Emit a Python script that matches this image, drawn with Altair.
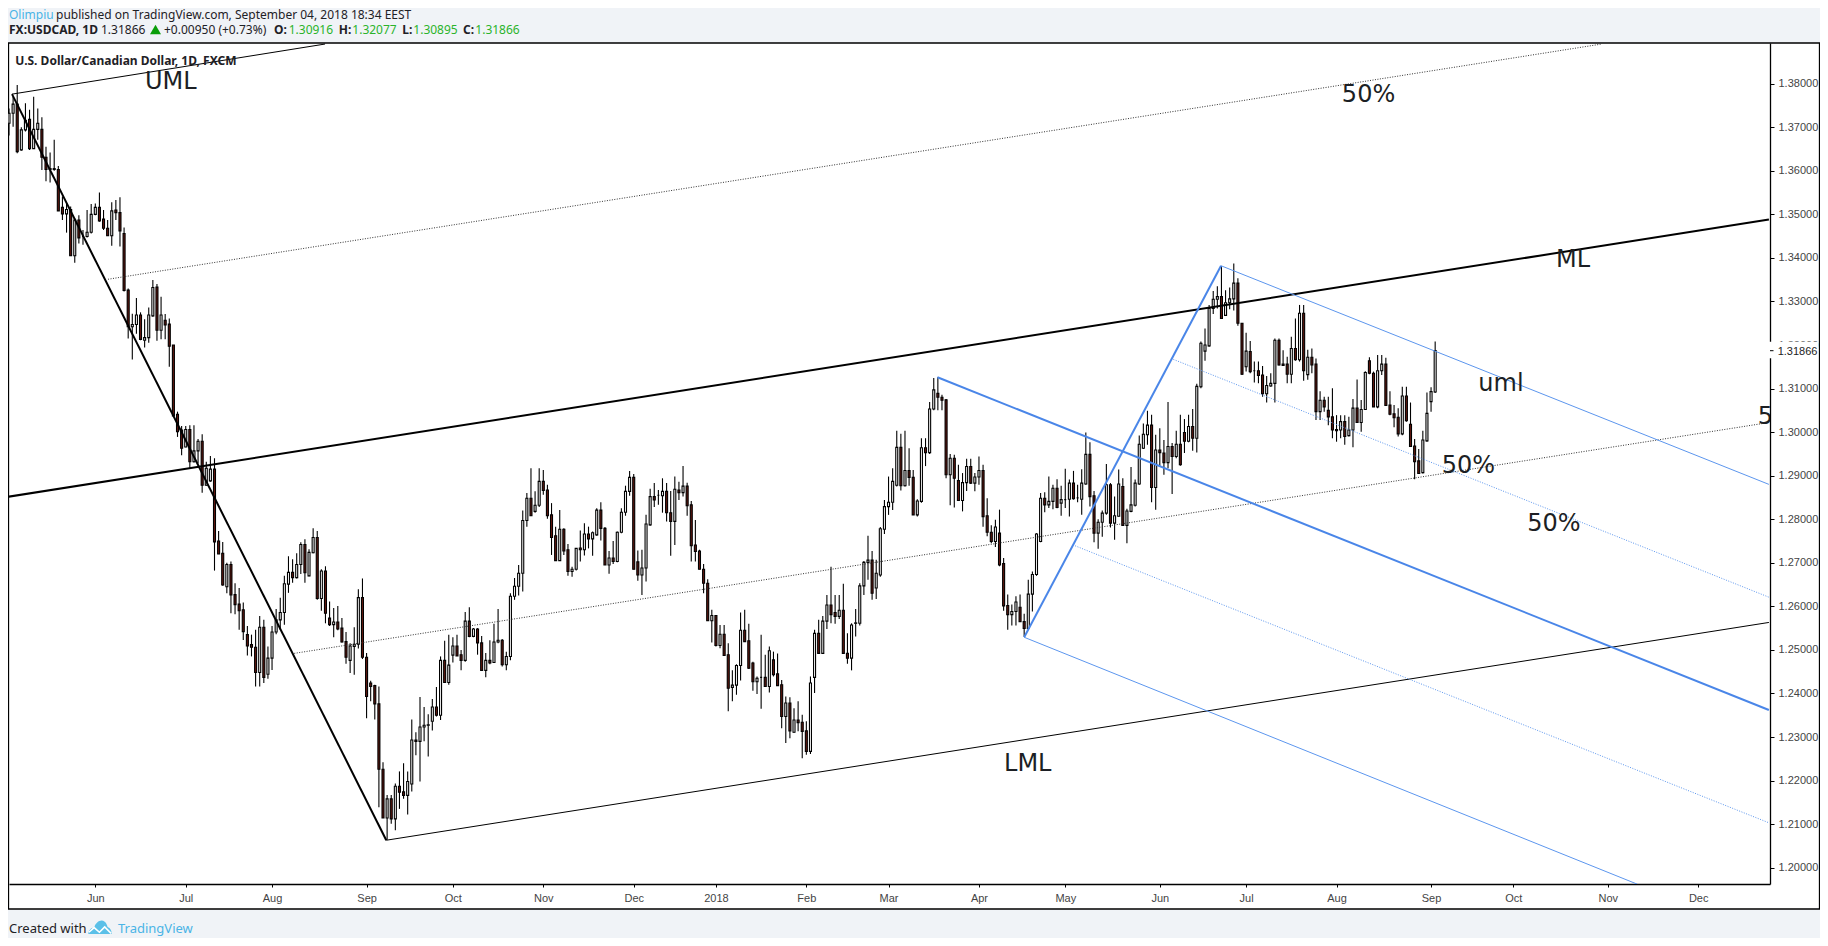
import altair as alt
import pandas as pd

# Daily USD/CAD candles, in units of 0.0001
opens = [13709,13732,13753,13648,13694,13718,13651,13695,13695,13631,
13603,13605,13603,13516,13501,13511,13405,13487,13449,13449,
13459,13500,13516,13489,13468,13451,13510,13504,13456,13326,
13242,13247,13269,13211,13217,13267,13333,13234,13257,13248,
13200,13041,13005,12966,13006,12932,12957,12979,12878,12888,
12915,12750,12722,12645,12696,12627,12605,12592,12535,12512,
12506,12448,12552,12444,12481,12541,12569,12586,12651,12678,
12666,12696,12742,12670,12723,12758,12618,12681,12573,12558,
12564,12550,12519,12476,12508,12513,12620,12483,12424,12418,
12376,12226,12114,12158,12112,12187,12174,12166,12192,12293,
12290,12323,12327,12336,12369,12350,12476,12425,12488,12509,
12489,12476,12566,12531,12548,12516,12453,12476,12471,12518,
12522,12466,12485,12623,12646,12676,12797,12848,12818,12832,
12887,12867,12810,12762,12705,12777,12730,12680,12685,12734,
12730,12766,12755,12764,12821,12779,12695,12711,12703,12770,
12816,12864,12896,12702,12672,12688,12787,12852,12855,12854,
12864,12815,12795,12867,12861,12876,12833,12741,12727,12685,
12653,12567,12579,12510,12536,12489,12414,12419,12464,12545,
12521,12470,12427,12437,12437,12416,12477,12445,12420,12347,
12378,12311,12339,12334,12314,12267,12437,12538,12492,12566,
12603,12586,12577,12591,12492,12481,12561,12561,12647,12701,
12706,12642,12672,12777,12829,12839,12878,12965,12877,12912,
12896,12810,12841,12964,12953,13053,13089,13080,13074,12902,
12940,12889,12843,12884,12921,12883,12897,12912,12808,12770,
12749,12768,12698,12602,12581,12588,12598,12565,12549,12628,
12673,12749,12848,12833,12841,12871,12837,12845,12846,12883,
12849,12846,12881,12949,12854,12768,12793,12814,12879,12791,
12807,12875,12786,12818,12832,12881,12963,12994,13016,12873,
12959,12952,12930,12967,12944,12972,12999,12979,13013,12986,
13104,13186,13198,13284,13305,13311,13268,13297,13306,13342,
13250,13150,13185,13141,13141,13131,13088,13106,13112,13211,
13156,13156,13133,13192,13166,13273,13132,13172,13156,13047,
13073,13050,13035,13006,13005,13024,12992,13005,13055,13022,
13052,13164,13135,13058,13141,13156,13062,13042,13034,12996,
13083,13018,12968,12934,12907,12980,13070,13092]

highs = [13743,13770,13797,13700,13755,13740,13770,13743,13723,13655,
13642,13671,13611,13541,13525,13518,13491,13498,13464,13510,
13524,13525,13550,13510,13487,13528,13533,13539,13470,13330,
13272,13308,13275,13259,13286,13349,13340,13311,13271,13261,
13200,13047,13014,13014,13016,13016,12984,12995,12932,12945,
12940,12773,12748,12700,12703,12653,12642,12609,12555,12535,
12546,12578,12569,12508,12555,12594,12620,12670,12715,12708,
12722,12747,12754,12731,12779,12773,12685,12692,12611,12596,
12601,12573,12541,12515,12552,12639,12664,12493,12429,12420,
12416,12242,12167,12167,12193,12221,12240,12221,12340,12311,
12392,12369,12352,12387,12415,12485,12521,12535,12529,12535,
12500,12587,12598,12550,12550,12532,12493,12522,12560,12594,
12525,12496,12630,12665,12695,12820,12860,12917,12864,12917,
12913,12879,12837,12783,12821,12779,12743,12691,12733,12774,
12791,12783,12772,12825,12839,12782,12727,12750,12772,12825,
12877,12911,12904,12728,12730,12810,12870,12883,12867,12894,
12883,12865,12898,12886,12922,12884,12842,12798,12730,12697,
12662,12592,12580,12557,12557,12515,12453,12467,12586,12592,
12560,12473,12439,12535,12489,12508,12496,12492,12431,12393,
12391,12366,12382,12351,12336,12439,12546,12569,12578,12626,
12691,12626,12626,12652,12538,12561,12594,12653,12704,12762,
12727,12707,12782,12844,12898,12917,13003,12996,13003,12963,
12913,12846,12986,12986,13069,13124,13126,13086,13076,12950,
12948,12925,12906,12939,12939,12906,12944,12925,12848,12786,
12799,12822,12711,12627,12604,12623,12627,12583,12661,12680,
12768,12860,12862,12898,12879,12892,12877,12916,12891,12911,
12879,12915,12999,12977,12865,12800,12820,12927,12883,12852,
12914,12894,12824,12920,12891,12992,13020,13049,13040,12994,
13009,12982,13069,12975,13003,13040,13030,13040,13053,13111,
13208,13238,13292,13324,13335,13381,13326,13332,13387,13353,
13250,13228,13209,13162,13162,13152,13129,13135,13215,13215,
13188,13173,13219,13261,13292,13292,13189,13192,13169,13094,
13081,13081,13101,13039,13039,13039,13035,13076,13121,13074,
13140,13172,13139,13177,13177,13171,13094,13062,13055,13104,
13104,13068,12984,12961,13003,13091,13103,13208]

lows = [13681,13701,13640,13646,13690,13648,13650,13671,13602,13576,
13573,13600,13508,13487,13458,13405,13389,13433,13430,13447,
13456,13498,13483,13464,13450,13428,13487,13426,13323,13215,
13167,13226,13211,13194,13205,13265,13210,13213,13213,13150,
13037,12989,12947,12965,12917,12930,12928,12861,12877,12886,
12682,12720,12647,12630,12584,12582,12546,12523,12487,12485,
12416,12416,12424,12434,12454,12536,12546,12558,12631,12654,
12664,12674,12654,12669,12722,12615,12590,12561,12555,12529,
12545,12517,12468,12447,12443,12503,12479,12343,12382,12340,
12139,12114,12064,12101,12086,12135,12158,12122,12175,12258,
12198,12290,12255,12315,12347,12339,12424,12420,12471,12486,
12453,12473,12529,12529,12489,12452,12437,12467,12470,12515,
12462,12453,12476,12615,12625,12634,12783,12808,12815,12828,
12856,12801,12718,12704,12704,12718,12670,12668,12682,12703,
12717,12733,12716,12762,12751,12695,12675,12697,12701,12768,
12808,12854,12685,12659,12626,12657,12785,12828,12833,12815,
12795,12716,12741,12844,12852,12808,12703,12703,12685,12630,
12567,12517,12508,12504,12486,12359,12382,12397,12430,12518,
12456,12406,12399,12365,12416,12402,12439,12418,12320,12286,
12297,12310,12313,12251,12259,12261,12401,12491,12491,12548,
12561,12560,12571,12491,12468,12453,12531,12556,12626,12661,
12615,12617,12668,12766,12810,12821,12875,12866,12875,12877,
12810,12806,12838,12922,12950,13050,13050,13050,12894,12832,
12827,12843,12818,12865,12881,12864,12879,12783,12761,12745,
12736,12692,12590,12546,12556,12556,12564,12530,12546,12588,
12670,12747,12816,12826,12823,12825,12808,12826,12806,12845,
12839,12810,12879,12829,12747,12732,12760,12810,12781,12753,
12806,12786,12745,12816,12829,12879,12961,12971,12839,12822,
12921,12902,12917,12858,12940,12923,12952,12977,12957,12953,
13101,13164,13196,13271,13284,13260,13267,13282,13279,13244,
13131,13139,13135,13114,13112,13081,13068,13104,13068,13153,
13152,13112,13112,13164,13162,13118,13120,13135,13028,13028,
13047,13016,12986,12978,12986,12971,12990,12965,13022,13001,
13051,13133,13058,13055,13131,13061,13039,13011,12990,12993,
13024,12967,12892,12905,12905,12978,13047,13090]

closes = [13732,13753,13644,13694,13716,13651,13695,13709,13631,13603,
13605,13603,13508,13501,13511,13405,13487,13446,13449,13459,
13500,13516,13485,13468,13451,13508,13504,13462,13325,13242,
13247,13269,13213,13217,13269,13332,13234,13269,13246,13197,
13037,13001,12963,13006,12932,12957,12979,12878,12917,12915,
12748,12720,12649,12696,12626,12604,12590,12542,12509,12506,
12448,12552,12437,12481,12541,12569,12586,12652,12678,12666,
12696,12742,12677,12724,12758,12618,12681,12584,12558,12564,
12548,12518,12483,12509,12513,12620,12483,12393,12416,12376,
12226,12114,12158,12112,12187,12173,12166,12198,12293,12290,
12323,12327,12328,12369,12350,12476,12425,12465,12509,12486,
12476,12566,12531,12548,12516,12453,12476,12470,12518,12522,
12466,12485,12623,12646,12676,12797,12848,12808,12832,12887,
12866,12808,12758,12705,12777,12727,12680,12685,12733,12730,
12766,12755,12769,12821,12779,12695,12711,12703,12770,12816,
12864,12896,12685,12672,12688,12789,12852,12844,12855,12864,
12815,12795,12869,12861,12876,12831,12739,12726,12685,12653,
12567,12579,12510,12536,12487,12412,12419,12464,12545,12519,
12458,12427,12435,12437,12416,12498,12443,12418,12347,12378,
12314,12339,12333,12313,12267,12424,12538,12492,12566,12603,
12581,12577,12591,12492,12481,12557,12562,12647,12701,12706,
12630,12676,12778,12829,12839,12887,12965,12877,12912,12896,
12810,12842,12964,12953,13053,13097,13080,13073,12902,12940,
12894,12843,12884,12921,12883,12897,12912,12806,12770,12749,
12782,12695,12601,12581,12588,12610,12565,12549,12628,12673,
12766,12848,12833,12841,12871,12827,12845,12845,12883,12847,
12849,12883,12949,12852,12768,12793,12814,12879,12791,12808,
12881,12786,12819,12833,12883,12972,12995,13016,12873,12959,
12953,12930,12967,12944,12972,12925,12979,13013,12986,13105,
13204,13200,13284,13305,13311,13261,13297,13306,13342,13250,
13133,13186,13139,13141,13130,13088,13107,13112,13211,13154,
13153,13133,13192,13166,13273,13141,13172,13154,13047,13073,
13058,13035,13005,13003,13024,12990,13005,13055,13022,13052,
13137,13135,13058,13141,13156,13061,13041,13033,12996,13083,
13026,12967,12932,12905,12982,13043,13093,13187]

month_ticks = [21,43,64,87,108,130,152,172,194,214,236,257,280,301,323,346,366,389,411]
month_labels = ["Jun","Jul","Aug","Sep","Oct","Nov","Dec","2018","Feb","Mar","Apr","May","Jun","Jul","Aug","Sep","Oct","Nov","Dec"]
price_ticks = [1.20,1.21,1.22,1.23,1.24,1.25,1.26,1.27,1.28,1.29,1.30,1.31,1.32,1.33,1.34,1.35,1.36,1.37,1.38]

# Trend lines: (bar0, price0, bar1, price1) in bars and 0.0001 units
black_handle = (0.73, 13776, 91.8, 12063)
black_median = (-0.61, 12851, 428.2, 13488)
black_upper = (0.73, 13776, 76.9, 13891)
black_lower = (91.8, 12063, 428.2, 12563)
black_half_up = (24.1, 13351, 387.5, 13891)
black_half_dn = (69.4, 12492, 428.2, 13022)
blue_handle = (294.9, 13382, 247.0, 12529)
blue_median = (225.9, 13126, 428.2, 12362)
blue_upper = (294.9, 13382, 428.2, 12880)
blue_lower = (247.0, 12529, 396.2, 11962)
blue_half_up = (283.3, 13167, 428.2, 12621)
blue_half_dn = (259.4, 12739, 428.2, 12103)

annotation_text = ["UML", "ML", "uml", "50%", "50%", "50%", "LML", "5"]
annotation_bar = [33.1, 376.4, 357.5, 324.3, 348.6, 369.4, 242.1, 425.5]
annotation_price = [13787, 13378, 13095, 13758, 12905.5, 12774, 12222, 13019]

assert len(opens) == len(highs) == len(lows) == len(closes) == 348

PW, PH = 1761, 841
X0, Y0 = 9, 43                # page position of the plot origin
BG = "#f0f3f7"
BLUE = "#4a86e8"
LIGHT = "#5c96ee"
INK = "#1e2126"
GREEN = "#2bb32b"
LINK = "#4ab4e6"
x_dom = [0, PW / 4.11]
y_dom = [1.19625, 1.38934]

df = pd.DataFrame({
    "bar": range(len(opens)),
    "open": [v / 10000 for v in opens],
    "high": [v / 10000 for v in highs],
    "low": [v / 10000 for v in lows],
    "close": [v / 10000 for v in closes],
})

one = alt.Data(values=[{"a": 1}])
def fx(p): return alt.value(p - X0)
def fy(p): return alt.value(p - Y0)

def box(x1, x2, y1, y2, **kw):
    return alt.Chart(one).mark_rect(**kw).encode(x=fx(x1), x2=fx(x2), y=fy(y1), y2=fy(y2))

def label(txt, x, y, size=12, color=INK, weight="normal", font="Noto Sans"):
    return alt.Chart(one).mark_text(text=txt, align="left", baseline="alphabetic", fontSize=size,
                                    color=color, fontWeight=weight, font=font).encode(x=fx(x), y=fy(y))

xs = alt.Scale(domain=x_dom, nice=False, zero=False, padding=0)
ys = alt.Scale(domain=y_dom, nice=False, zero=False, padding=0)
X = alt.X("bar:Q", scale=xs, axis=None)
Y = alt.Y("p:Q", scale=ys, axis=None)

def seg(line, color, width, dash=None):
    d = pd.DataFrame({"bar": [line[0], line[2]], "p": [line[1] / 10000, line[3] / 10000]})
    kw = {"strokeDash": dash} if dash else {}
    return alt.Chart(d).mark_line(color=color, strokeWidth=width, clip=True, **kw).encode(x=X, y=Y)

x_axis = alt.Axis(values=month_ticks, labelExpr="%s[indexof(%s, datum.value)]" % (month_labels, month_ticks),
                  title=None, grid=False, tickSize=3, tickColor="black", domainColor="black", domainWidth=1.3,
                  labelFontSize=11, labelFont="Liberation Sans", labelColor="#444444", labelPadding=5,
                  labelOverlap=False, labelFlush=False)
y_axis = alt.Axis(orient="right", values=price_ticks, format=".5f", title=None, grid=False, tickSize=4,
                  tickColor="black", domainColor="black", domainWidth=1.3, labelFontSize=11,
                  labelFont="Liberation Sans", labelColor="#444444", labelPadding=4, labelOverlap=False)

wicks = alt.Chart(df).mark_rule(color="black", strokeWidth=1.1).encode(
    x=alt.X("bar:Q", scale=xs, axis=x_axis),
    y=alt.Y("low:Q", scale=ys, axis=y_axis),
    y2="high:Q")

bodies = alt.Chart(df).mark_bar(size=2, stroke="black", strokeWidth=1.1).encode(
    x=alt.X("bar:Q", scale=xs, axis=None),
    y=alt.Y("open:Q", scale=ys, axis=None),
    y2="close:Q",
    fill=alt.condition("datum.close >= datum.open", alt.value("white"), alt.value("#641810")))

notes_df = pd.DataFrame({"bar": annotation_bar, "p": [v / 10000 for v in annotation_price], "t": annotation_text})
notes = alt.Chart(notes_df).mark_text(align="left", baseline="alphabetic", fontSize=24, font="DejaVu Sans",
                                      color="#1c1f24", clip=True).encode(x=X, y=Y, text="t:N")

cloud = "M-1,0.6 C-1,0.3 -0.75,0.05 -0.5,0.05 C-0.35,-0.45 0.1,-0.7 0.4,-0.45 C0.55,-0.35 0.6,-0.15 0.65,0 C0.9,0.1 1,0.3 1,0.6 Z"
zig = "M-0.95,0.45 L-0.5,0.05 L-0.05,0.45 L0.4,0 L0.95,0.55"

layers = [
    # page background strips around the white panel
    box(8, 1820, 8, 43, color=BG),
    box(1819.5, 1820, 8, 938, color=BG),
    box(8, 1820, 909, 938, color=BG),
    box(8.5, 1819.5, 43, 909, fill="transparent", stroke="black", strokeWidth=1.3),
    wicks, bodies,
    seg(black_half_up, "#333333", 1, [1, 1.5]),
    seg(black_half_dn, "#333333", 1, [1, 1.5]),
    seg(black_median, "black", 2),
    seg(black_upper, "black", 1),
    seg(black_lower, "black", 1),
    seg(black_handle, "black", 2),
    seg(blue_half_up, LIGHT, 1, [1, 1.5]),
    seg(blue_half_dn, LIGHT, 1, [1, 1.5]),
    seg(blue_upper, LIGHT, 1),
    seg(blue_lower, LIGHT, 1),
    seg(blue_median, BLUE, 2),
    seg(blue_handle, BLUE, 2),
    notes,
    # current-price tag on the price axis
    box(1769, 1818, 341.7, 358.3, color="white"),
    alt.Chart(one).mark_rule(color="black", strokeWidth=1).encode(x=fx(1770), x2=fx(1773.5), y=fy(350.7)),
    label("1.31866", 1777.7, 354.6, size=11, color="#222222", font="Liberation Sans"),
    # chart title and header
    label("U.S. Dollar/Canadian Dollar, 1D, FXCM", 15.3, 65, weight="bold"),
    label("Olimpiu", 9, 19, color=LINK),
    label("published on TradingView.com, September 04, 2018 18:34 EEST", 56, 19),
    label("FX:USDCAD, 1D", 9, 34, weight="bold"),
    label("1.31866", 101, 34),
    alt.Chart(one).mark_point(shape="triangle-up", filled=True, color="#0a9e0a", size=121, opacity=1).encode(x=fx(155.5), y=fy(29.5)),
    label("+0.00950 (+0.73%)", 164, 34),
    label("O:", 274, 34, weight="bold"),
    label("1.30916", 288.7, 34, color=GREEN),
    label("H:", 338.7, 34, weight="bold"),
    label("1.32077", 352.3, 34, color=GREEN),
    label("L:", 402.3, 34, weight="bold"),
    label("1.30895", 413.3, 34, color=GREEN),
    label("C:", 463, 34, weight="bold"),
    label("1.31866", 475.3, 34, color=GREEN),
    # footer
    label("Created with", 9, 932.7, size=13),
    alt.Chart(one).mark_point(shape=cloud, filled=True, color="#5bc0e8", size=547, opacity=1).encode(x=fx(100), y=fy(927)),
    alt.Chart(one).mark_point(shape=zig, filled=False, color="white", strokeWidth=1.6, size=547, opacity=1).encode(x=fx(100), y=fy(927)),
    label("TradingView", 118, 932.7, size=13, color=LINK),
]

chart = alt.layer(*layers).properties(
    width=PW, height=PH,
    padding={"left": 1, "top": 35, "right": 50, "bottom": 54},
    autosize=alt.AutoSizeParams(type="none"),
    background="white",
).resolve_axis(x="independent", y="independent").configure_view(strokeWidth=0)

chart.save("out.html", embed_options={"renderer": "svg", "actions": False})
